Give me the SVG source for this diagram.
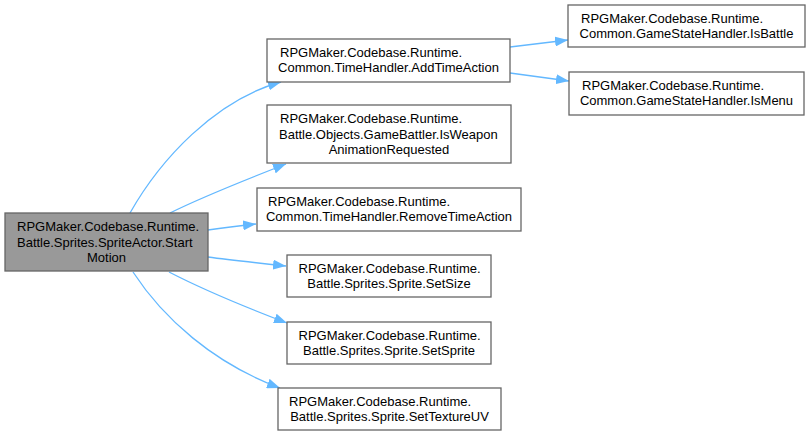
<svg xmlns="http://www.w3.org/2000/svg" width="810" height="436" viewBox="0 0 810 436">
<style>
.n rect{fill:#ffffff;stroke:#666666;stroke-width:1.3}
.n.m rect{fill:#999999}
.n text{font-family:"Liberation Sans",Arial,sans-serif;font-size:13px;fill:#000000}
.c{text-anchor:middle}
.e path{fill:none;stroke:#63b8ff;stroke-width:1.3}
</style>
<defs>
<marker id="ah" viewBox="0 0 13 10" refX="13" refY="5" markerUnits="userSpaceOnUse" markerWidth="13" markerHeight="10" orient="auto">
<polygon points="0,0 13,5 0,10" fill="#63b8ff"/>
</marker>
</defs>
<rect width="810" height="436" fill="#ffffff"/>
<g id="edges" class="e">
<path d="M130,213 C160,160 215,100 281,82" marker-end="url(#ah)"/>
<path d="M170,213 C200,198 245,180 286,164" marker-end="url(#ah)"/>
<path d="M208,230 C222,228 238,226 256,224" marker-end="url(#ah)"/>
<path d="M208,257 C230,260 258,263 286,266" marker-end="url(#ah)"/>
<path d="M169,272 C200,288 245,307 287,323" marker-end="url(#ah)"/>
<path d="M133,272 C163,318 213,363 280,388" marker-end="url(#ah)"/>
<path d="M510,47 L568,40" marker-end="url(#ah)"/>
<path d="M510,73 L569,81" marker-end="url(#ah)"/>
</g>
<g id="main" class="n m">
<rect x="5" y="213" width="203" height="58"/>
<text x="17" y="231">RPGMaker.Codebase.Runtime.</text>
<text x="17" y="246.5">Battle.Sprites.SpriteActor.Start</text>
<text class="c" x="106.5" y="262">Motion</text>
</g>
<g id="addTimeAction" class="n">
<rect x="267" y="39" width="243" height="43"/>
<text x="280" y="56.5">RPGMaker.Codebase.Runtime.</text>
<text class="c" x="388.5" y="72">Common.TimeHandler.AddTimeAction</text>
</g>
<g id="isWeapon" class="n">
<rect x="267" y="105" width="244" height="58"/>
<text x="280" y="123">RPGMaker.Codebase.Runtime.</text>
<text x="279" y="138.5">Battle.Objects.GameBattler.IsWeapon</text>
<text class="c" x="389" y="154">AnimationRequested</text>
</g>
<g id="removeTimeAction" class="n">
<rect x="257" y="188" width="264" height="43"/>
<text x="268" y="205.5">RPGMaker.Codebase.Runtime.</text>
<text class="c" x="389" y="221">Common.TimeHandler.RemoveTimeAction</text>
</g>
<g id="setSize" class="n">
<rect x="287" y="255" width="204" height="42"/>
<text x="298.5" y="272.5">RPGMaker.Codebase.Runtime.</text>
<text class="c" x="389" y="288">Battle.Sprites.Sprite.SetSize</text>
</g>
<g id="setSprite" class="n">
<rect x="287" y="322" width="204" height="42"/>
<text x="298.5" y="339.5">RPGMaker.Codebase.Runtime.</text>
<text class="c" x="389" y="355">Battle.Sprites.Sprite.SetSprite</text>
</g>
<g id="setTextureUV" class="n">
<rect x="278" y="388" width="223" height="42"/>
<text x="289" y="405.5">RPGMaker.Codebase.Runtime.</text>
<text class="c" x="389.5" y="421">Battle.Sprites.Sprite.SetTextureUV</text>
</g>
<g id="isBattle" class="n">
<rect x="568" y="5" width="237" height="42"/>
<text x="581" y="22.5">RPGMaker.Codebase.Runtime.</text>
<text class="c" x="686.5" y="38">Common.GameStateHandler.IsBattle</text>
</g>
<g id="isMenu" class="n">
<rect x="569" y="72" width="235" height="43"/>
<text x="582" y="89.5">RPGMaker.Codebase.Runtime.</text>
<text class="c" x="686.5" y="105">Common.GameStateHandler.IsMenu</text>
</g>
</svg>
